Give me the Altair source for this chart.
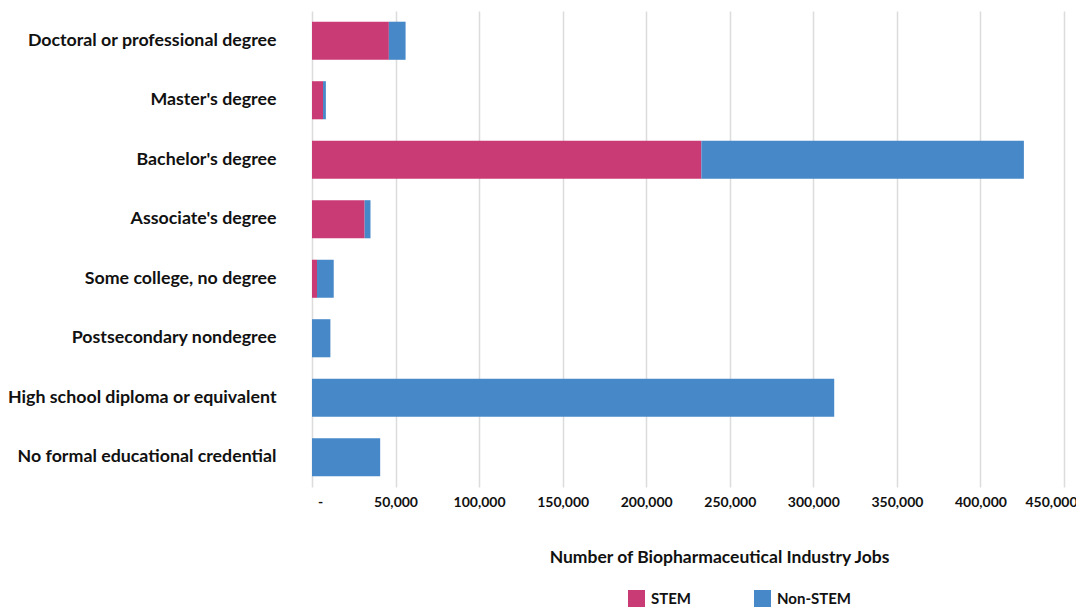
import altair as alt
import pandas as pd

categories = [
    "Doctoral or professional degree",
    "Master's degree",
    "Bachelor's degree",
    "Associate's degree",
    "Some college, no degree",
    "Postsecondary nondegree",
    "High school diploma or equivalent",
    "No formal educational credential",
]
stem = [46000, 6600, 233000, 31500, 3000, 0, 0, 0]
non_stem = [10000, 1700, 193000, 3500, 10000, 11000, 312500, 40800]
series = ["STEM", "Non-STEM"]
colors = ["#C93B74", "#4788C8"]

rows = []
for c, s, n in zip(categories, stem, non_stem):
    rows.append({"cat": c, "series": "STEM", "value": s, "ord": 0})
    rows.append({"cat": c, "series": "Non-STEM", "value": n, "ord": 1})
df = pd.DataFrame(rows)

FONT = "Lato"

chart = alt.Chart(df).mark_bar().encode(
    y=alt.Y("cat:N", sort=categories,
            scale=alt.Scale(paddingInner=0.36, paddingOuter=0.18),
            axis=alt.Axis(title=None, labelFont=FONT, labelFontSize=17.8, labelFontWeight="bold",
                          labelColor="#111", labelPadding=36, ticks=False, domain=False,
                          grid=False, labelLimit=400)),
    x=alt.X("value:Q", stack="zero",
            scale=alt.Scale(domain=[0, 450000], nice=False),
            axis=alt.Axis(title="Number of Biopharmaceutical Industry Jobs",
                          values=list(range(0, 450001, 50000)),
                          labelExpr="datum.value == 0 ? '-' : format(datum.value, ',')",
                          labelFont=FONT, labelFontSize=14, labelFontWeight="bold",
                          labelColor="#111", labelPadding=8, labelFlush=False,
                          labelOverlap=False,
                          labelOffset={"condition": [
                              {"test": "datum.value == 0", "value": 8},
                              {"test": "datum.value == 450000", "value": -13}],
                              "value": 0},
                          titleFont=FONT, titleFontSize=17.5, titleFontWeight="bold",
                          titleColor="#111", titlePadding=39, titleX=407, titleAlign="center",
                          domain=False, ticks=False, grid=True, gridColor="#dcdcdc",
                          gridWidth=1.5)),
    color=alt.Color("series:N", sort=series,
                    scale=alt.Scale(domain=series, range=colors),
                    legend=alt.Legend(title=None, orient="none", legendX=316, legendY=579,
                                      direction="horizontal", symbolType="square",
                                      symbolSize=289, symbolStrokeWidth=0,
                                      labelFont=FONT, labelFontSize=15, labelFontWeight="bold",
                                      labelColor="#111", labelOffset=6, columnPadding=62)),
    order=alt.Order("ord:Q"),
).properties(
    width=752, height=476,
    autosize=alt.AutoSizeParams(type="none"),
    padding={"left": 304, "top": 3, "right": 12, "bottom": 120},
).configure_view(stroke=None)

chart.save("out.html", embed_options={"renderer": "svg", "actions": False})
